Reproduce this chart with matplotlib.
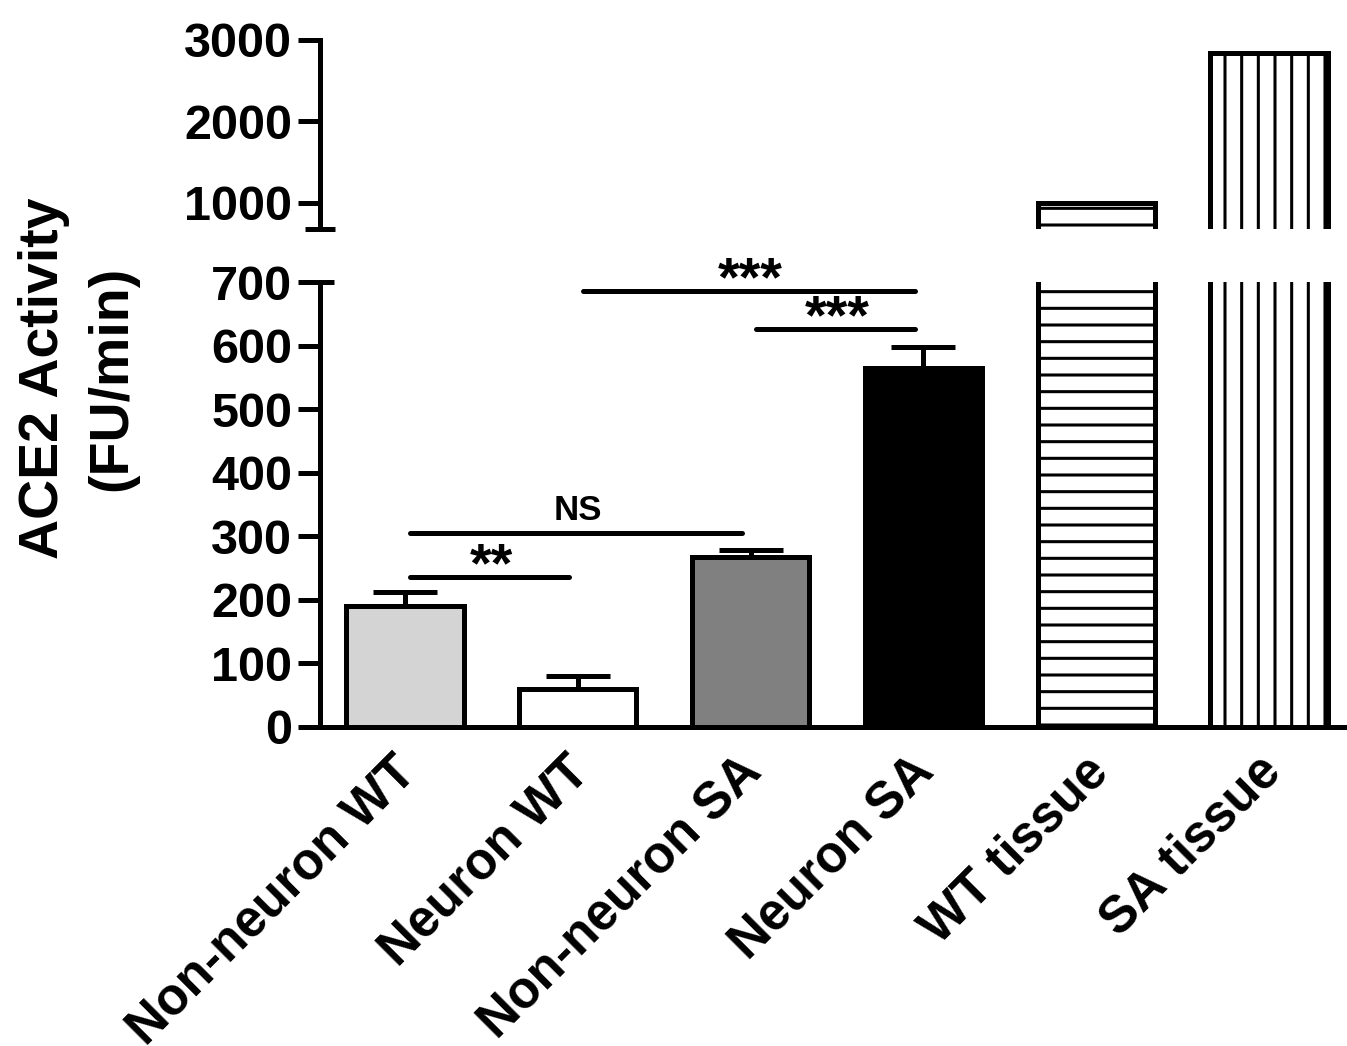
import numpy as np
import matplotlib
matplotlib.use("Agg")
import matplotlib.pyplot as plt

plt.rcParams['font.family'] = ['Liberation Sans', 'DejaVu Sans']
plt.rcParams['font.weight'] = 'bold'
plt.rcParams['hatch.linewidth'] = 2.2

# data
categorias = ["Non-neuron WT", "Neuron WT", "Non-neuron SA", "Neuron SA", "WT tissue", "SA tissue"]
valores = [190, 60, 268, 565, 1000, 2840]
errores = [22, 20, 10, 33, 0, 0]
colores = ["#d4d4d4", "#ffffff", "#808080", "#000000", "#ffffff", "#ffffff"]
tramas = ["", "", "", "", "-", "|"]

# significance: (bar a, bar b, y, label)
comparaciones = [
    (0, 1, 236, "**"),
    (0, 2, 306, "NS"),
    (1, 3, 687, "***"),
    (2, 3, 627, "***"),
]

lw = 3.6
fig = plt.figure(figsize=(13.47, 10.46), dpi=100)
ax_hi = fig.add_axes([0.2376, 0.781, 0.7624, 0.181])
ax_lo = fig.add_axes([0.2376, 0.305, 0.7624, 0.425])

x = np.arange(len(categorias))
for ax in (ax_hi, ax_lo):
    ax.bar(x, valores, width=0.68, color=colores, edgecolor="black",
           linewidth=lw, hatch=tramas, zorder=2)
    ax.set_xlim(-0.49, 5.45)
    for s in ("top", "right"):
        ax.spines[s].set_visible(False)
    ax.spines["left"].set_linewidth(lw)
    ax.spines["bottom"].set_linewidth(lw)
    ax.tick_params(axis="y", length=16, width=lw, labelsize=35, pad=4)

# error bars (upper only)
yerr = np.array([np.zeros(len(errores)), errores])
mask = np.array(errores) > 0
ax_lo.errorbar(x[mask], np.array(valores)[mask], yerr=yerr[:, mask], fmt="none",
               ecolor="black", elinewidth=lw, capsize=23, capthick=lw, zorder=1)

ax_lo.set_ylim(0, 700)
ax_lo.set_yticks(np.arange(0, 701, 100))
ax_hi.set_ylim(680, 3000)
ax_hi.set_yticks([1000, 2000, 3000])
ax_hi.spines["bottom"].set_visible(False)
ax_hi.set_xticks([])

ax_lo.set_xticks(x)
ax_lo.set_xticklabels(categorias, rotation=45, ha="right", va="center_baseline",
                      rotation_mode="anchor", fontsize=37, fontweight="bold")
ax_lo.tick_params(axis="x", length=0, pad=24)

# break marks
ax_hi.plot([-0.0143, 0.0143], [680, 680], color="black", lw=lw,
           transform=ax_hi.get_yaxis_transform(), clip_on=False, solid_capstyle="butt")
ax_lo.plot([0, 0.0136], [700, 700], color="black", lw=lw,
           transform=ax_lo.get_yaxis_transform(), clip_on=False, solid_capstyle="butt")

# significance lines
for a, b, y, txt in comparaciones:
    ax_lo.plot([x[a] + 0.03, x[b] - 0.05], [y, y], color="black", lw=lw,
               solid_capstyle="round", clip_on=False)
    if txt == "NS":
        ax_lo.annotate(txt, ((x[a] + x[b]) / 2, y), xytext=(0, 4), textcoords="offset points",
                       ha="center", va="bottom", fontsize=25, fontweight="bold")
    else:
        ax_lo.annotate(txt, ((x[a] + x[b]) / 2, y), xytext=(0, -3), textcoords="offset points",
                       ha="center", va="baseline", fontsize=40, fontweight="bold")

fig.text(0.033, 0.638, "ACE2 Activity", rotation=90, ha="center", va="center",
         fontsize=40, fontweight="bold")
fig.text(0.083, 0.638, "(FU/min)", rotation=90, ha="center", va="center",
         fontsize=40, fontweight="bold")

fig.savefig("out.png", dpi=100)
